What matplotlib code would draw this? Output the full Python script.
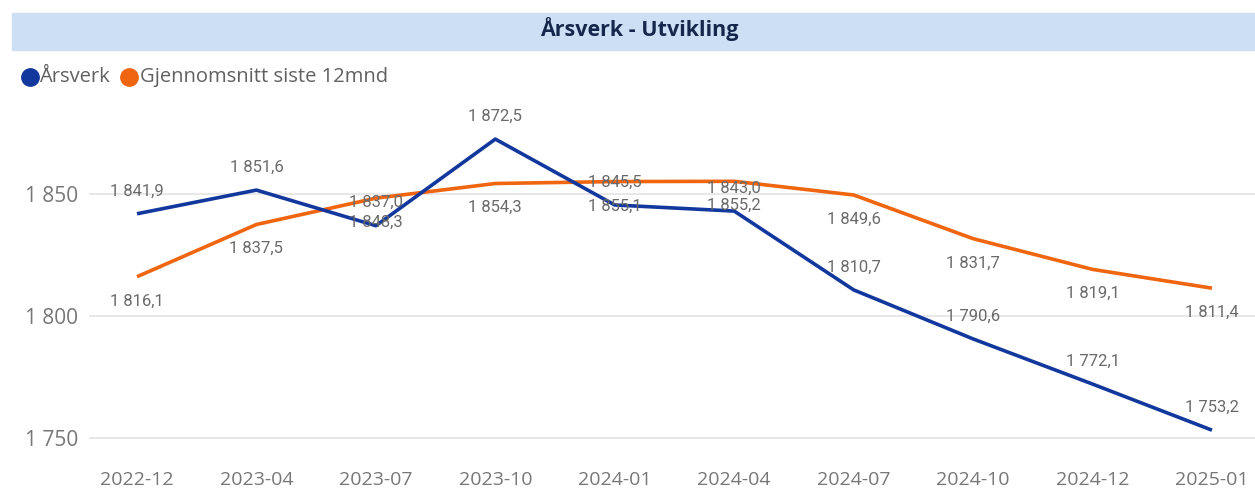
import matplotlib
matplotlib.use("Agg")
import matplotlib.pyplot as plt
from matplotlib.patches import Rectangle
from matplotlib.lines import Line2D

categories = ["2022-12", "2023-04", "2023-07", "2023-10", "2024-01",
              "2024-04", "2024-07", "2024-10", "2024-12", "2025-01"]
arsverk = [1841.9, 1851.6, 1837.0, 1872.5, 1845.5, 1843.0, 1810.7, 1790.6, 1772.1, 1753.2]
snitt12 = [1816.1, 1837.5, 1848.3, 1854.3, 1855.1, 1855.2, 1849.6, 1831.7, 1819.1, 1811.4]
yticks = [1750, 1800, 1850]

BLUE = "#12389e"
ORANGE = "#ef6510"
GRAY = "#777777"
LBL = "#6a6a6a"

def fmt(v, dec=1):
    s = f"{v:,.{dec}f}"
    return s.replace(",", " ").replace(".", ",")

fig = plt.figure(figsize=(12.55, 4.94), dpi=100)
W, H = 1255, 494

# title bar
fig.patches.append(Rectangle((12 / W, 1 - 50 / H), (W - 12) / W, 37 / H,
                             transform=fig.transFigure, color="#cddff5", zorder=0))
fig.text(639 / W, 1 - 29 / H, "Årsverk - Utvikling", ha="center", va="center",
         fontsize=15.5, fontweight="bold", color="#15284b", family="Open Sans")

# legend
fig.add_artist(Line2D([30 / W], [1 - 77 / H], marker="o", markersize=12.5, color=BLUE,
                      transform=fig.transFigure, linestyle="none"))
fig.text(39 / W, 1 - 77 / H, "Årsverk", color="#606060", fontsize=14.5, va="center",
         ha="left", family="Open Sans")
fig.add_artist(Line2D([129 / W], [1 - 77 / H], marker="o", markersize=12.5, color=ORANGE,
                      transform=fig.transFigure, linestyle="none"))
fig.text(140 / W, 1 - 77 / H, "Gjennomsnitt siste 12mnd", color="#606060", fontsize=14.5,
         va="center", ha="left", family="Open Sans")

# axes
ymin, ymax = 1745, 1885
bottom = 1 - 450.2 / H
top = 1 - 108.6 / H
left = 89.2 / W
ax = fig.add_axes([left, bottom, 1 - left, top - bottom])
x = list(range(len(categories)))
ax.plot(x, snitt12, color=ORANGE, lw=2.6, solid_capstyle="butt", zorder=3)
ax.plot(x, arsverk, color=BLUE, lw=2.6, solid_capstyle="butt", zorder=4)
ax.set_xlim(-0.4, 9.36)
ax.set_ylim(ymin, ymax)
ax.set_xticks(x)
ax.set_xticklabels(categories)
ax.set_yticks(yticks)
ax.set_yticklabels([fmt(v, 0) for v in yticks])
ax.grid(axis="y", color="#e6e6e6", lw=1.3)
ax.set_axisbelow(True)
for s in ax.spines.values():
    s.set_visible(False)
ax.tick_params(length=0, labelcolor=GRAY)
ax.tick_params(axis="x", pad=15, labelsize=14)
ax.tick_params(axis="y", pad=8, labelsize=15)
for lab in ax.get_xticklabels() + ax.get_yticklabels():
    lab.set_family("Open Sans")

for xi, v in zip(x, arsverk):
    ax.annotate(fmt(v), (xi, v), xytext=(0, 16.5), textcoords="offset points",
                ha="center", va="center", fontsize=12, color=LBL,
                family="Roboto", zorder=6)
for xi, v in zip(x, snitt12):
    ax.annotate(fmt(v), (xi, v), xytext=(0, -17.5), textcoords="offset points",
                ha="center", va="center", fontsize=12, color=LBL,
                family="Roboto", zorder=6)

fig.savefig("out.png", dpi=100)
